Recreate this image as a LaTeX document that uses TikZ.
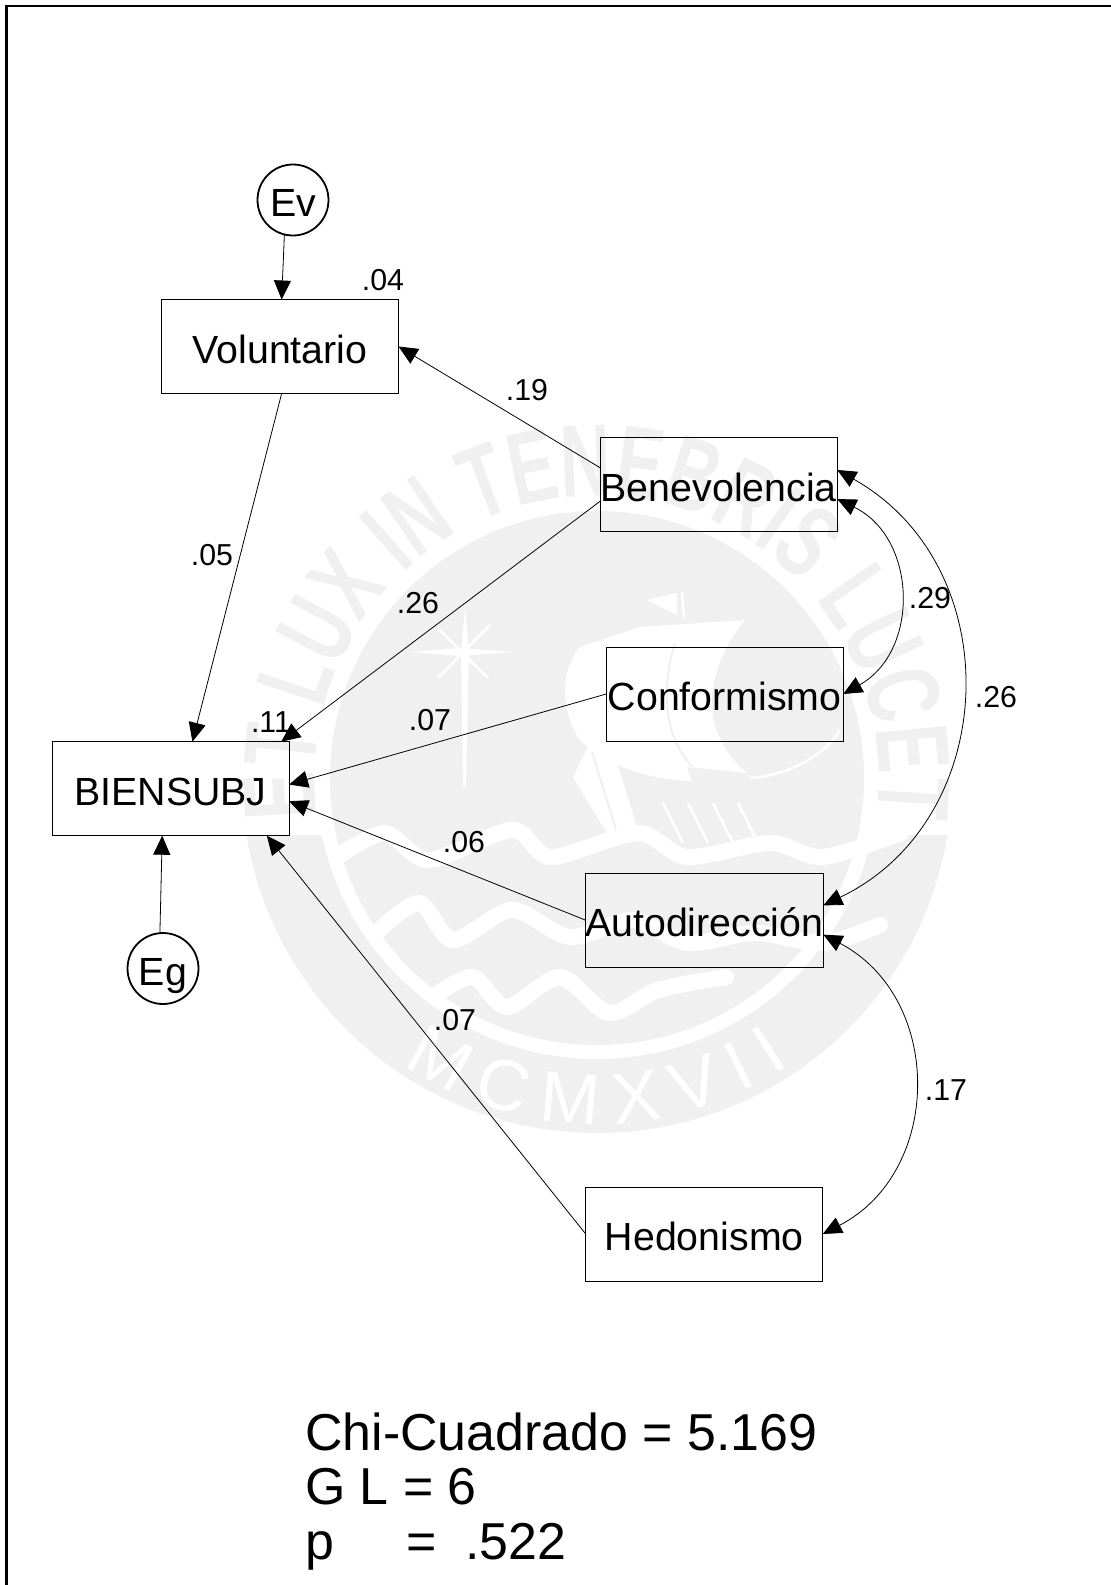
\documentclass[tikz,border=0pt]{standalone}
\usepackage{fontspec}
\setmainfont{Liberation Sans}
\newfontfamily\sealfont[FakeStretch=0.68]{Liberation Sans}
\usetikzlibrary{positioning, arrows.meta, decorations.text}
\definecolor{sealgray}{HTML}{F0F0F0}

\begin{document}
\begin{tikzpicture}[
        x=1pt, y=1pt,
        box/.style = {draw, line width=1pt, inner sep=0pt, outer sep=0pt, minimum width=237pt, minimum height=94pt, text height=33pt, text depth=0pt, font=\fontsize{39.3}{40}\selectfont},
        error/.style = {draw, circle, line width=1.8pt, inner sep=0pt, outer sep=0pt, minimum size=71pt, text height=33pt, text depth=0pt, font=\fontsize{39.3}{40}\selectfont},
        arrow/.style = {-{Triangle[length=19pt,width=17pt]}, line width=0.8pt},
        covar/.style = {{Triangle[length=19pt,width=17pt]}-{Triangle[length=19pt,width=17pt]}, line width=0.8pt, bend left=62.5, looseness=1.16},
        coef/.style = {inner sep=0pt, font=\fontsize{30.3}{31}\selectfont},
        wave/.style = {white, line width=16pt, line cap=round}
        ]
    \useasboundingbox (0,0) rectangle (1111,-1585);

    % Sello de fondo
    \begin{scope}
        \clip (0,-835) rectangle (1111,-1585);
        \fill[sealgray, even odd rule] (597,-778) circle (355) (597,-778) circle (281);
    \end{scope}
    \fill[sealgray] (597,-778) circle (267);
    \path[decorate, decoration={text along path, text align=center,
        text={|\sealfont\bfseries\fontsize{103}{103}\selectfont\color{sealgray}|ET LUX IN TENEBRIS LUCET}}]
        (597,-778) ++(190.6:282) arc[start angle=190.6, end angle=-10.6, radius=282];
    \path[decorate, decoration={text along path, text align={fit to path},
        text={|\fontsize{72}{72}\selectfont\color{white}|MCMXVII}}]
        (597,-778) ++(-124:346) arc[start angle=-124, end angle=-56, radius=346];

    % Estrella
    \fill[white] (465,-607) -- (469,-652) -- (466,-787) -- (463,-787) -- (461,-652) -- cycle;
    \fill[white] (410,-652) -- (461,-648) -- (513,-652) -- (461,-656) -- cycle;
    \draw[white, line width=2.5pt] (438,-678) -- (490,-625) (437,-627) -- (488,-678);

    % Barco
    \fill[white] (647,-600) -- (677,-593) -- (677,-615) -- cycle;
    \draw[white, line width=2.5pt] (682,-592) -- (684,-618);
    \fill[white] (640,-627) -- (745,-620) .. controls (712,-660) and (690,-725) .. (747,-773)
        .. controls (700,-790) and (620,-780) .. (580,-740)
        .. controls (560,-710) and (560,-670) .. (580,-647) -- cycle;
    \draw[sealgray, line width=2pt] (675,-643) .. controls (660,-690) and (665,-740) .. (693,-767);
    \fill[sealgray] (687,-767) -- (747,-773) -- (737,-783) -- (693,-785) -- cycle;
    \draw[white, line width=2.5pt] (750,-778) .. controls (790,-775) and (825,-755) .. (840,-730);
    \fill[white] (573,-777) -- (592,-738) -- (612,-745) -- (640,-838) -- (610,-838) -- cycle;
    \draw[sealgray, line width=2pt] (592,-752) -- (618,-836);
    \foreach \i in {0,25,50,75}
        \draw[white, line width=2.5pt] (663+\i,-803) -- (683+\i,-843);

    % Olas
    \draw[wave] plot[smooth] coordinates {(337,-857) (385,-833) (429,-860) (512,-830) (551,-857) (638,-833) (687,-857) (770,-843) (823,-857) (901,-833)};
    \draw[wave] plot[smooth] coordinates {(376,-933) (419,-903) (453,-940) (512,-910) (570,-937) (633,-920) (687,-943) (755,-933) (823,-943) (880,-925)};
    \draw[wave] plot[smooth] coordinates {(439,-993) (473,-977) (507,-1007) (560,-977) (609,-1013) (658,-990) (726,-977)};

    % Marco
    \draw[line width=2.2pt] (6.5,-1585) -- (6.5,-6.2) -- (1111,-6.2);

    % Nodos
    \node[box] (volun) at (280,-346.5) {Voluntario};
    \node[box, below right=44pt and 201.75pt of volun] (bene) {Benevolencia};
    \node[box, below=115.5pt of bene, xshift=6pt] (conf) {Conformismo};
    \node[box, below=132pt of conf, xshift=-20.5pt] (autod) {Autodirección};
    \node[box, below=220pt of autod] (hedon) {Hedonismo};
    \node[box] (bien) at (170.5,-788.7) {BIENSUBJ};
    \node[error, above=64pt of volun, xshift=13pt] (ev) {Ev};
    \node[error, below=97.3pt of bien, xshift=-7.5pt] (eg) {Eg};

    % Flechas
    \draw[arrow] (ev.-104) -- (volun.88.8);
    \draw[arrow] (eg.95) -- (bien.-100.3);
    \draw[arrow] (volun.-88.8) -- (bien.65.3);
    \draw[arrow] (bene.172.3) -- (volun.east);
    \draw[arrow] (bene.-172) -- (bien.23.9);
    \draw[arrow] (conf.west) -- (bien.2.3);
    \draw[arrow] (autod.west) -- (bien.-6.4);
    \draw[arrow] (hedon.west) -- (bien.-26.2);

    % Covarianzas
    \draw[covar] (bene.7.3) to (autod.7.4);
    \draw[covar] (bene.-7) to (conf.east);
    \draw[covar] (autod.-7.5) to (hedon.east);

    % Coeficientes
    \node[coef] (cvolun) at (383,-280) {.04};
    \node[coef] (cbv) at (527,-390) {.19};
    \node[coef] (cvb) at (212,-555) {.05};
    \node[coef] (cbb) at (418,-603) {.26};
    \node[coef] (cbien) at (271,-722) {.11};
    \node[coef] (ccb) at (430,-720) {.07};
    \node[coef] (cab) at (464,-842) {.06};
    \node[coef] (chb) at (455,-1020) {.07};
    \node[coef] (cbc) at (930,-598) {.29};
    \node[coef] (cba) at (996,-697) {.26};
    \node[coef] (cah) at (946,-1090) {.17};

    % Ajuste
    \node[anchor=north west, inner sep=0pt, align=left, font=\fontsize{51.9}{54.6}\selectfont] (ajuste) at (305,-1412.5)
        {Chi-Cuadrado = 5.169\\G L = 6\\p\ \ \ \ \ =\ \ .522};
\end{tikzpicture}
\end{document}
